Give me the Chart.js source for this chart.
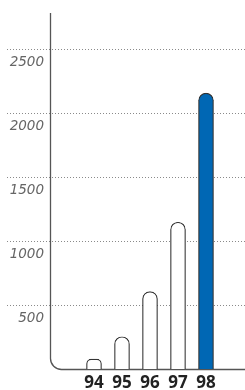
<!DOCTYPE html>
<html><head><meta charset="utf-8">
<script src="https://cdn.jsdelivr.net/npm/chart.js@4/dist/chart.umd.min.js"></script>
<style>html,body{margin:0;padding:0;background:#fff;}#wrap{width:245px;height:390px;position:relative;}</style>
</head><body><div id="wrap"><canvas id="c" width="245" height="390"></canvas></div>
<script>
const categories = ['94', '95', '96', '97', '98'];
const values = [78, 252, 604, 1146, 2154];
const yTicks = [500, 1000, 1500, 2000, 2500];

const overlay = {
  id: 'overlay',
  beforeDatasetsDraw(chart) {
    const ctx = chart.ctx, y = chart.scales.y, x = chart.scales.x;
    const W = chart.width;
    ctx.save();
    // dotted grid + labels
    ctx.strokeStyle = '#8a8a8a';
    ctx.lineWidth = 1;
    ctx.setLineDash([1, 2]);
    yTicks.forEach(v => {
      const py = Math.round(y.getPixelForValue(v)) + 0.5;
      ctx.beginPath(); ctx.moveTo(7, py); ctx.lineTo(W, py); ctx.stroke();
    });
    ctx.setLineDash([]);
    ctx.fillStyle = '#666';
    ctx.font = 'italic 13.5px "DejaVu Sans"';
    ctx.textAlign = 'right';
    ctx.textBaseline = 'middle';
    yTicks.forEach(v => {
      const py = y.getPixelForValue(v);
      ctx.fillText(String(v), 44, py + 14);
    });
    // axis with rounded corner
    const x0 = 50.5, y0 = Math.round(y.getPixelForValue(0)) + 0.5, r = 11;
    ctx.strokeStyle = '#555';
    ctx.lineWidth = 1.3;
    ctx.beginPath();
    ctx.moveTo(x0, 13);
    ctx.lineTo(x0, y0 - r);
    ctx.arcTo(x0, y0, x0 + r, y0, r);
    ctx.lineTo(W, y0);
    ctx.stroke();
    // category labels
    ctx.fillStyle = '#222';
    ctx.font = 'bold 17px "Open Sans"';
    ctx.textAlign = 'center';
    ctx.textBaseline = 'middle';
    categories.forEach((c, i) => {
      ctx.fillText(c, x.getPixelForValue(i), 383);
    });
    ctx.restore();
  }
};

new Chart(document.getElementById('c'), {
  type: 'bar',
  data: {
    labels: categories,
    datasets: [{
      data: values,
      backgroundColor: ['#fff', '#fff', '#fff', '#fff', '#0067b4'],
      borderColor: '#333',
      borderWidth: 1.2,
      borderSkipped: 'bottom',
      borderRadius: { topLeft: 8, topRight: 8, bottomLeft: 0, bottomRight: 0 },
      barThickness: 15
    }]
  },
  options: {
    responsive: false,
    animation: false,
    events: [],
    layout: { padding: { left: 80, right: 25, top: 13, bottom: 21 } },
    plugins: { legend: { display: false }, tooltip: { enabled: false } },
    scales: {
      x: { display: false },
      y: { display: false, min: 0, max: 2780 }
    }
  },
  plugins: [overlay]
});
</script></body></html>
